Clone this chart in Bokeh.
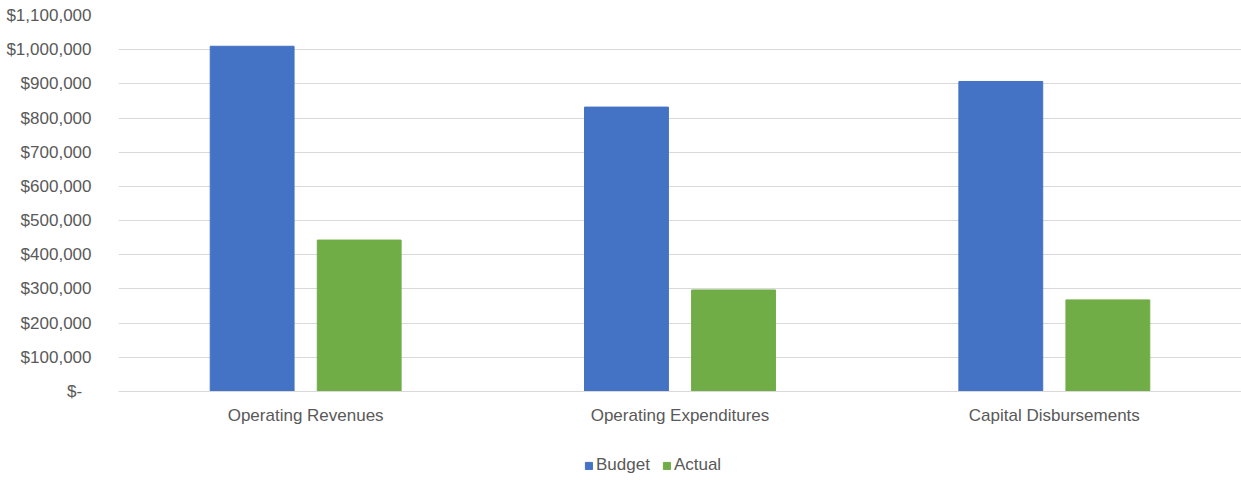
from bokeh.plotting import figure
from bokeh.layouts import column
from bokeh.models import Range1d, FixedTicker, NumeralTickFormatter, Legend, LegendItem, ColumnDataSource
from bokeh.embed import file_html
from bokeh.resources import INLINE

categories = ["Operating Revenues", "Operating Expenditures", "Capital Disbursements"]
budget = [1010000, 832000, 907000]
actual = [443000, 297000, 268000]
y_ticks = [0, 100000, 200000, 300000, 400000, 500000, 600000, 700000, 800000, 900000, 1000000, 1100000]
series_names = ["Budget", "Actual"]
series_colors = ["#4472C4", "#70AD47"]

FONT = "Liberation Sans"
TXT = "#595959"

x_pos = [i + 0.5 for i in range(len(categories))]
src = ColumnDataSource(dict(
    xb=[x - 0.143 for x in x_pos],
    xa=[x + 0.143 for x in x_pos],
    budget=budget,
    actual=actual,
))

p = figure(width=1241, height=430, output_backend="svg", toolbar_location=None,
           x_range=Range1d(0, 3), y_range=Range1d(0, 1100000),
           min_border_left=118, min_border_top=15, min_border_right=0,
           min_border_bottom=39)
p.outline_line_color = None
p.background_fill_color = "white"
p.border_fill_color = "white"

p.vbar(x="xb", top="budget", width=0.224, source=src, color=series_colors[0])
p.vbar(x="xa", top="actual", width=0.224, source=src, color=series_colors[1])

# x axis
p.xaxis.ticker = FixedTicker(ticks=x_pos)
p.xaxis.major_label_overrides = {x: c for x, c in zip(x_pos, categories)}
p.xaxis.major_tick_line_color = None
p.xaxis.minor_tick_line_color = None
p.xaxis.axis_line_color = "#d9d9d9"
p.xaxis.major_label_text_font = FONT
p.xaxis.major_label_text_font_size = "17px"
p.xaxis.major_label_text_color = TXT
p.xaxis.major_label_standoff = 8
p.xgrid.grid_line_color = None

# y axis
p.yaxis.ticker = FixedTicker(ticks=y_ticks)
p.yaxis.formatter = NumeralTickFormatter(format="$0,0")
p.yaxis.major_label_overrides = {0: "$-\u00a0\u00a0"}
p.yaxis.major_tick_line_color = None
p.yaxis.minor_tick_line_color = None
p.yaxis.axis_line_color = None
p.yaxis.major_label_text_font = FONT
p.yaxis.major_label_text_font_size = "17px"
p.yaxis.major_label_text_color = TXT
p.yaxis.major_label_standoff = 21
p.ygrid.grid_line_color = "#d9d9d9"
p.ygrid.ticker = FixedTicker(ticks=y_ticks)

# legend strip below
lf = figure(width=1241, height=50, output_backend="svg", toolbar_location=None,
            x_range=Range1d(0, 1), y_range=Range1d(0, 1),
            x_axis_location=None, y_axis_location=None,
            min_border_left=0, min_border_right=0, min_border_top=0, min_border_bottom=0)
lf.outline_line_color = None
lf.grid.grid_line_color = None
items = []
for name, col in zip(series_names, series_colors):
    dummy = ColumnDataSource(dict(x=[0.5], top=[float("nan")]))
    r = lf.vbar(x="x", top="top", width=0.1, source=dummy, color=col)
    items.append(LegendItem(label=name, renderers=[r]))

legend = Legend(items=items, orientation="horizontal", location=(466, 5),
                label_text_font=FONT, label_text_font_size="17px", label_text_color=TXT,
                glyph_width=9, glyph_height=9, label_standoff=3, spacing=12,
                padding=0, margin=0, border_line_color=None,
                background_fill_alpha=0)
lf.add_layout(legend)

open("out.html", "w").write(file_html(column(p, lf, spacing=0), INLINE))
